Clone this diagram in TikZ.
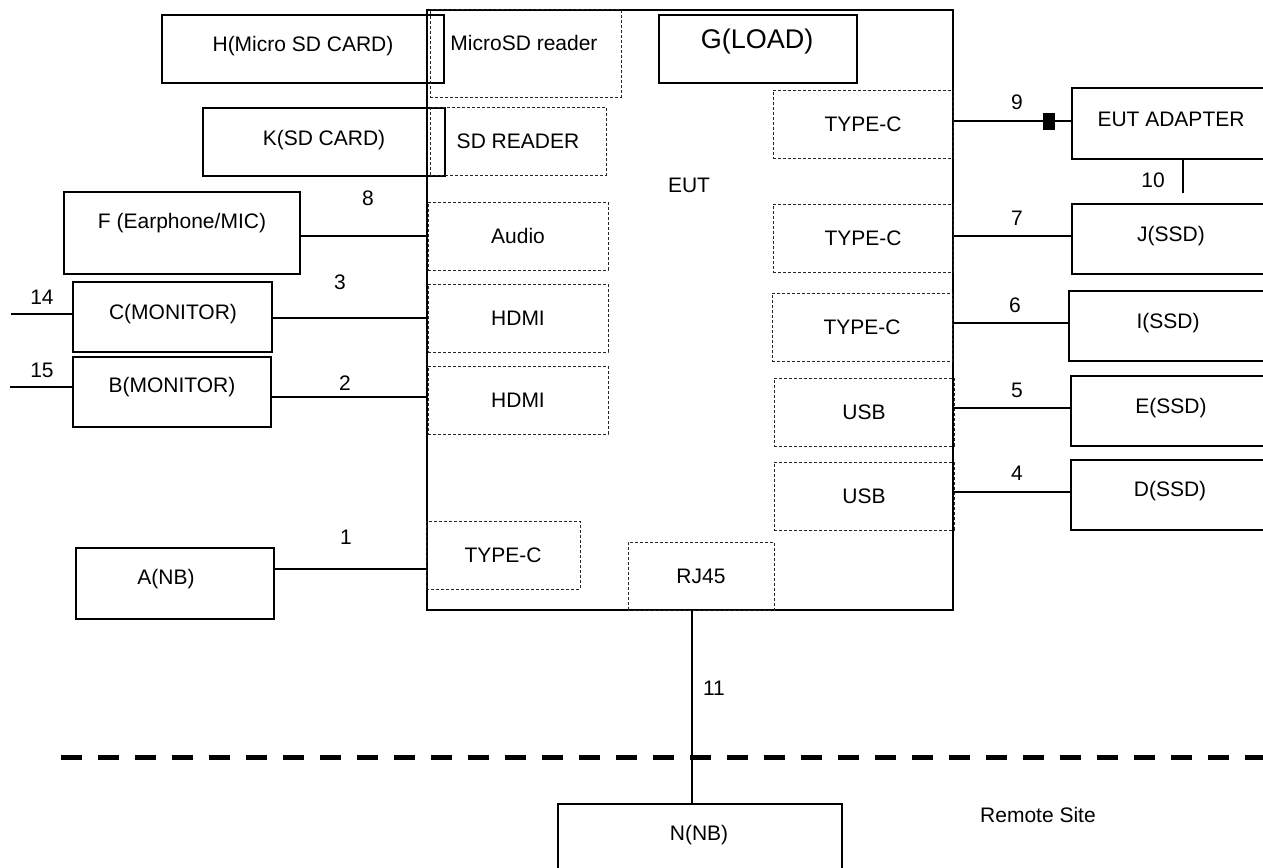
\documentclass[tikz,border=0pt]{standalone}
\usepackage{fontspec}
\setmainfont{Liberation Sans}
\begin{document}
\begin{tikzpicture}[x=1pt,y=-1pt,
  box/.style={draw, line width=1.3pt, inner sep=0pt},
  port/.style={draw, black!85, line width=1pt, dash pattern=on 3pt off 2pt, inner sep=0pt, text=black, font=\fontsize{21}{25}\selectfont},
  txt/.style={inner sep=0pt, font=\fontsize{21}{25}\selectfont},
  wire/.style={line width=1.3pt}]
\useasboundingbox (0,0) rectangle (1263,867);
% main EUT box
\node (EUT) [box, minimum width=526pt, minimum height=600pt] at (690,310) {};
\node (EUTt) [txt] at (689,185) {EUT};
% load
\node (G) [box, minimum width=198pt, minimum height=68pt] at (758,49) {};
\node (Gt) [txt, font=\fontsize{27}{31}\selectfont] at (757,42) {G(LOAD)};
% left devices
\node (H) [box, minimum width=282pt, minimum height=68pt] at (303,49) {};
\node (Ht) [txt] at (303,46) {H(Micro SD CARD)};
\node (K) [box, minimum width=242pt, minimum height=68pt] at (324,142) {};
\node (Kt) [txt] at (324,140) {K(SD CARD)};
\node (F) [box, minimum width=236pt, minimum height=82pt] at (182,233) {};
\node (Ft) [txt] at (182,223) {F (Earphone/MIC)};
\node (C) [box, minimum width=199pt, minimum height=70pt] at (172.5,317) {};
\node (Ct) [txt] at (173,314) {C(MONITOR)};
\node (B) [box, minimum width=198pt, minimum height=70pt] at (172,392) {};
\node (Bt) [txt] at (172,387) {B(MONITOR)};
\node (A) [box, minimum width=198pt, minimum height=71pt] at (175,583.5) {};
\node (At) [txt] at (166,579) {A(NB)};
% right devices
\node (Adp) [box, minimum width=198pt, minimum height=71pt] at (1171,123.5) {};
\node (Adpt) [txt] at (1171,119) {EUT ADAPTER};
\node (J) [box, minimum width=198pt, minimum height=70pt] at (1171,239) {};
\node (Jt) [txt] at (1171,236) {J(SSD)};
\node (I) [box, minimum width=198pt, minimum height=70pt] at (1168,326) {};
\node (It) [txt] at (1168,323) {I(SSD)};
\node (E) [box, minimum width=200pt, minimum height=70pt] at (1171,411) {};
\node (Et) [txt] at (1171,408) {E(SSD)};
\node (D) [box, minimum width=200pt, minimum height=70pt] at (1171,495) {};
\node (Dt) [txt] at (1170,491) {D(SSD)};
% remote
\node (N) [box, minimum width=284pt, minimum height=70pt] at (700,839) {};
\node (Nt) [txt] at (699,835) {N(NB)};
\node (RS) [txt] at (1038,815) {Remote Site};
% ports
\node (MSD) [port, minimum width=191pt, minimum height=87pt] at (525.5,53.5) {};
\node (MSDt) [txt] at (524,43) {MicroSD reader};
\node (SDR) [port, minimum width=176pt, minimum height=68pt] at (518,141) {SD READER};
\node (AUD) [port, minimum width=180pt, minimum height=68pt] at (518,236) {Audio};
\node (HD1) [port, minimum width=180pt, minimum height=68pt] at (518,318) {HDMI};
\node (HD2) [port, minimum width=180pt, minimum height=68pt] at (518,400) {HDMI};
\node (TCL) [port, minimum width=154pt, minimum height=68pt] at (503,555) {TYPE-C};
\node (RJ) [port, minimum width=146pt, minimum height=68pt] at (701,576) {RJ45};
\node (TC1) [port, minimum width=180pt, minimum height=68pt] at (863,124) {TYPE-C};
\node (TC2) [port, minimum width=180pt, minimum height=68pt] at (863,238) {TYPE-C};
\node (TC3) [port, minimum width=180pt, minimum height=68pt] at (862,327) {TYPE-C};
\node (USB1) [port, minimum width=180pt, minimum height=68pt] at (864,412) {USB};
\node (USB2) [port, minimum width=180pt, minimum height=68pt] at (864,496) {USB};
% connector levels
\coordinate (y8) at (0,236);
\coordinate (y3) at (0,318);
\coordinate (y2) at (0,397);
\coordinate (y1) at (0,569);
\coordinate (y9) at (0,121);
\coordinate (y7) at (0,236);
\coordinate (y6) at (0,323);
\coordinate (y5) at (0,408);
\coordinate (y4) at (0,492);
\coordinate (e14) at (11,314);
\coordinate (e15) at (10,387);
\coordinate (e10) at (1183,193);
\coordinate (x11) at (692,0);
% left connectors
\draw[wire] (F.east |- y8) -- (EUT.west |- y8);
\draw[wire] (C.east |- y3) -- (EUT.west |- y3);
\draw[wire] (B.east |- y2) -- (EUT.west |- y2);
\draw[wire] (A.east |- y1) -- (EUT.west |- y1);
\draw[wire] (e14) -- (C.west |- e14);
\draw[wire] (e15) -- (B.west |- e15);
% right connectors
\draw[wire] (EUT.east |- y9) -- (Adp.west |- y9);
\node (sq) [fill=black, inner sep=0pt, minimum width=12pt, minimum height=17pt] at (1049,121.5) {};
\draw[wire] (Adp.south -| e10) -- (e10);
\draw[wire] (EUT.east |- y7) -- (J.west |- y7);
\draw[wire] (EUT.east |- y6) -- (I.west |- y6);
\draw[wire] (EUT.east |- y5) -- (E.west |- y5);
\draw[wire] (EUT.east |- y4) -- (D.west |- y4);
% network
\draw[wire] (RJ.south -| x11) -- (N.north -| x11);
% separation line
\coordinate (dl1) at (61,757);
\coordinate (dl2) at (1300,757);
\draw[line width=5pt, dash pattern=on 21pt off 16pt] (dl1) -- (dl2);
% labels
\node (l8) [txt] at (368,198) {8};
\node (l3) [txt] at (340,282) {3};
\node (l14) [txt] at (42,297) {14};
\node (l15) [txt] at (42,370) {15};
\node (l2) [txt] at (345,383) {2};
\node (l1) [txt] at (346,537) {1};
\node (l9) [txt] at (1017,102) {9};
\node (l10) [txt] at (1153,180) {10};
\node (l7) [txt] at (1017,218) {7};
\node (l6) [txt] at (1015,305) {6};
\node (l5) [txt] at (1017,390) {5};
\node (l4) [txt] at (1017,473) {4};
\node (l11) [txt] at (714,688) {11};
\end{tikzpicture}
\end{document}
